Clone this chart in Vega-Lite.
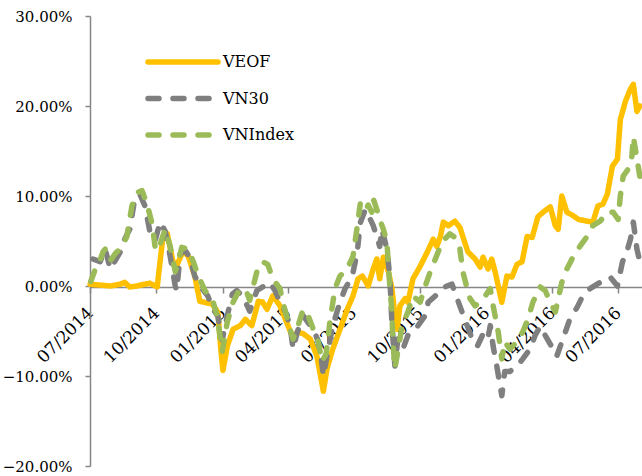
{
 "$schema": "https://vega.github.io/schema/vega-lite/v6.json",
 "width": 552, "height": 450,
 "autosize": {"type": "none"},
 "padding": {"left": 90, "top": 16, "right": 0, "bottom": 10},
 "config": {"view": {"stroke": null}, "font": "DejaVu Serif"},
 "data": {"values": [
{"date":"2014-07-01","series":"VEOF","value":0.2},
{"date":"2014-07-15","series":"VEOF","value":0.1},
{"date":"2014-07-29","series":"VEOF","value":0.0},
{"date":"2014-08-12","series":"VEOF","value":0.2},
{"date":"2014-08-18","series":"VEOF","value":0.4},
{"date":"2014-08-25","series":"VEOF","value":-0.1},
{"date":"2014-09-04","series":"VEOF","value":0.0},
{"date":"2014-09-15","series":"VEOF","value":0.2},
{"date":"2014-09-22","series":"VEOF","value":0.3},
{"date":"2014-10-02","series":"VEOF","value":-0.1},
{"date":"2014-10-10","series":"VEOF","value":5.5},
{"date":"2014-10-16","series":"VEOF","value":5.8},
{"date":"2014-10-23","series":"VEOF","value":3.0},
{"date":"2014-10-27","series":"VEOF","value":1.9},
{"date":"2014-11-07","series":"VEOF","value":3.9},
{"date":"2014-11-14","series":"VEOF","value":3.3},
{"date":"2014-11-23","series":"VEOF","value":1.1},
{"date":"2014-11-30","series":"VEOF","value":-1.7},
{"date":"2014-12-17","series":"VEOF","value":-2.0},
{"date":"2014-12-25","series":"VEOF","value":-2.9},
{"date":"2014-12-29","series":"VEOF","value":-7.0},
{"date":"2015-01-01","series":"VEOF","value":-9.4},
{"date":"2015-01-07","series":"VEOF","value":-6.7},
{"date":"2015-01-15","series":"VEOF","value":-4.8},
{"date":"2015-01-25","series":"VEOF","value":-4.4},
{"date":"2015-02-01","series":"VEOF","value":-3.7},
{"date":"2015-02-10","series":"VEOF","value":-4.4},
{"date":"2015-02-19","series":"VEOF","value":-1.7},
{"date":"2015-02-25","series":"VEOF","value":-1.8},
{"date":"2015-03-03","series":"VEOF","value":-2.6},
{"date":"2015-03-11","series":"VEOF","value":-1.1},
{"date":"2015-03-21","series":"VEOF","value":-2.2},
{"date":"2015-04-01","series":"VEOF","value":-4.4},
{"date":"2015-04-08","series":"VEOF","value":-5.8},
{"date":"2015-04-14","series":"VEOF","value":-5.1},
{"date":"2015-04-22","series":"VEOF","value":-5.3},
{"date":"2015-05-02","series":"VEOF","value":-5.9},
{"date":"2015-05-11","series":"VEOF","value":-7.8},
{"date":"2015-05-20","series":"VEOF","value":-11.7},
{"date":"2015-05-25","series":"VEOF","value":-9.2},
{"date":"2015-06-02","series":"VEOF","value":-7.0},
{"date":"2015-06-12","series":"VEOF","value":-4.8},
{"date":"2015-06-22","series":"VEOF","value":-2.6},
{"date":"2015-06-30","series":"VEOF","value":-1.1},
{"date":"2015-07-07","series":"VEOF","value":0.8},
{"date":"2015-07-13","series":"VEOF","value":1.1},
{"date":"2015-07-21","series":"VEOF","value":0.0},
{"date":"2015-07-28","series":"VEOF","value":1.9},
{"date":"2015-08-02","series":"VEOF","value":3.0},
{"date":"2015-08-06","series":"VEOF","value":0.8},
{"date":"2015-08-11","series":"VEOF","value":3.2},
{"date":"2015-08-18","series":"VEOF","value":1.6},
{"date":"2015-08-23","series":"VEOF","value":-0.3},
{"date":"2015-08-27","series":"VEOF","value":-3.3},
{"date":"2015-08-30","series":"VEOF","value":-4.8},
{"date":"2015-09-03","series":"VEOF","value":-2.2},
{"date":"2015-09-10","series":"VEOF","value":-1.4},
{"date":"2015-09-14","series":"VEOF","value":-1.8},
{"date":"2015-09-21","series":"VEOF","value":0.8},
{"date":"2015-10-01","series":"VEOF","value":2.2},
{"date":"2015-10-11","series":"VEOF","value":3.8},
{"date":"2015-10-19","series":"VEOF","value":5.2},
{"date":"2015-10-24","series":"VEOF","value":4.4},
{"date":"2015-10-29","series":"VEOF","value":5.5},
{"date":"2015-11-02","series":"VEOF","value":7.1},
{"date":"2015-11-09","series":"VEOF","value":6.7},
{"date":"2015-11-18","series":"VEOF","value":7.2},
{"date":"2015-11-25","series":"VEOF","value":6.5},
{"date":"2015-11-29","series":"VEOF","value":5.5},
{"date":"2015-12-06","series":"VEOF","value":3.8},
{"date":"2015-12-16","series":"VEOF","value":3.0},
{"date":"2015-12-23","series":"VEOF","value":2.1},
{"date":"2015-12-27","series":"VEOF","value":3.2},
{"date":"2016-01-03","series":"VEOF","value":1.9},
{"date":"2016-01-08","series":"VEOF","value":3.0},
{"date":"2016-01-13","series":"VEOF","value":1.5},
{"date":"2016-01-20","series":"VEOF","value":-1.1},
{"date":"2016-01-22","series":"VEOF","value":-1.8},
{"date":"2016-01-29","series":"VEOF","value":1.1},
{"date":"2016-02-05","series":"VEOF","value":1.0},
{"date":"2016-02-12","series":"VEOF","value":2.4},
{"date":"2016-02-19","series":"VEOF","value":2.7},
{"date":"2016-02-26","series":"VEOF","value":5.5},
{"date":"2016-03-04","series":"VEOF","value":5.4},
{"date":"2016-03-12","series":"VEOF","value":7.7},
{"date":"2016-03-19","series":"VEOF","value":8.2},
{"date":"2016-03-29","series":"VEOF","value":8.8},
{"date":"2016-04-05","series":"VEOF","value":6.7},
{"date":"2016-04-09","series":"VEOF","value":6.3},
{"date":"2016-04-14","series":"VEOF","value":10.0},
{"date":"2016-04-21","series":"VEOF","value":8.2},
{"date":"2016-04-30","series":"VEOF","value":7.8},
{"date":"2016-05-07","series":"VEOF","value":7.4},
{"date":"2016-05-19","series":"VEOF","value":7.2},
{"date":"2016-05-27","series":"VEOF","value":7.1},
{"date":"2016-06-03","series":"VEOF","value":8.9},
{"date":"2016-06-10","series":"VEOF","value":9.1},
{"date":"2016-06-16","series":"VEOF","value":10.2},
{"date":"2016-06-23","series":"VEOF","value":13.3},
{"date":"2016-06-30","series":"VEOF","value":14.1},
{"date":"2016-07-04","series":"VEOF","value":18.5},
{"date":"2016-07-11","series":"VEOF","value":20.5},
{"date":"2016-07-18","series":"VEOF","value":21.9},
{"date":"2016-07-22","series":"VEOF","value":22.4},
{"date":"2016-07-27","series":"VEOF","value":19.4},
{"date":"2016-07-31","series":"VEOF","value":20.0},
{"date":"2014-07-05","series":"VN30","value":3.0},
{"date":"2014-07-15","series":"VN30","value":2.7},
{"date":"2014-07-22","series":"VN30","value":4.1},
{"date":"2014-07-29","series":"VN30","value":1.9},
{"date":"2014-08-12","series":"VN30","value":3.8},
{"date":"2014-08-18","series":"VN30","value":5.2},
{"date":"2014-08-25","series":"VN30","value":6.3},
{"date":"2014-09-01","series":"VN30","value":9.7},
{"date":"2014-09-08","series":"VN30","value":10.2},
{"date":"2014-09-15","series":"VN30","value":8.9},
{"date":"2014-09-22","series":"VN30","value":6.0},
{"date":"2014-09-29","series":"VN30","value":5.0},
{"date":"2014-10-06","series":"VN30","value":7.1},
{"date":"2014-10-13","series":"VN30","value":6.1},
{"date":"2014-10-20","series":"VN30","value":3.3},
{"date":"2014-10-27","series":"VN30","value":0.0},
{"date":"2014-10-29","series":"VN30","value":-0.5},
{"date":"2014-11-03","series":"VN30","value":3.6},
{"date":"2014-11-10","series":"VN30","value":3.9},
{"date":"2014-11-16","series":"VN30","value":3.2},
{"date":"2014-11-23","series":"VN30","value":1.1},
{"date":"2014-12-03","series":"VN30","value":-0.3},
{"date":"2014-12-11","series":"VN30","value":-1.1},
{"date":"2014-12-18","series":"VN30","value":-2.5},
{"date":"2014-12-25","series":"VN30","value":-3.4},
{"date":"2014-12-31","series":"VN30","value":-6.0},
{"date":"2015-01-07","series":"VN30","value":-3.3},
{"date":"2015-01-14","series":"VN30","value":-0.9},
{"date":"2015-01-20","series":"VN30","value":-0.5},
{"date":"2015-01-29","series":"VN30","value":-1.2},
{"date":"2015-02-07","series":"VN30","value":-2.8},
{"date":"2015-02-17","series":"VN30","value":-0.5},
{"date":"2015-02-25","series":"VN30","value":-0.1},
{"date":"2015-03-07","series":"VN30","value":0.4},
{"date":"2015-03-14","series":"VN30","value":-0.5},
{"date":"2015-03-21","series":"VN30","value":-1.8},
{"date":"2015-03-28","series":"VN30","value":-2.8},
{"date":"2015-04-04","series":"VN30","value":-4.4},
{"date":"2015-04-08","series":"VN30","value":-7.0},
{"date":"2015-04-14","series":"VN30","value":-5.1},
{"date":"2015-04-22","series":"VN30","value":-3.3},
{"date":"2015-05-02","series":"VN30","value":-4.4},
{"date":"2015-05-08","series":"VN30","value":-5.1},
{"date":"2015-05-15","series":"VN30","value":-6.7},
{"date":"2015-05-20","series":"VN30","value":-10.0},
{"date":"2015-05-25","series":"VN30","value":-7.8},
{"date":"2015-06-02","series":"VN30","value":-4.4},
{"date":"2015-06-12","series":"VN30","value":-1.8},
{"date":"2015-06-19","series":"VN30","value":-0.3},
{"date":"2015-06-29","series":"VN30","value":1.1},
{"date":"2015-07-06","series":"VN30","value":3.8},
{"date":"2015-07-10","series":"VN30","value":7.0},
{"date":"2015-07-17","series":"VN30","value":8.5},
{"date":"2015-07-24","series":"VN30","value":7.4},
{"date":"2015-07-28","series":"VN30","value":6.7},
{"date":"2015-08-02","series":"VN30","value":5.5},
{"date":"2015-08-06","series":"VN30","value":4.4},
{"date":"2015-08-09","series":"VN30","value":6.3},
{"date":"2015-08-16","series":"VN30","value":4.1},
{"date":"2015-08-20","series":"VN30","value":1.0},
{"date":"2015-08-23","series":"VN30","value":-4.4},
{"date":"2015-08-27","series":"VN30","value":-8.9},
{"date":"2015-08-31","series":"VN30","value":-5.9},
{"date":"2015-09-07","series":"VN30","value":-7.0},
{"date":"2015-09-14","series":"VN30","value":-5.5},
{"date":"2015-09-21","series":"VN30","value":-5.1},
{"date":"2015-09-28","series":"VN30","value":-4.4},
{"date":"2015-10-08","series":"VN30","value":-3.3},
{"date":"2015-10-12","series":"VN30","value":-1.8},
{"date":"2015-10-22","series":"VN30","value":-1.1},
{"date":"2015-10-31","series":"VN30","value":-0.3},
{"date":"2015-11-07","series":"VN30","value":0.0},
{"date":"2015-11-14","series":"VN30","value":0.2},
{"date":"2015-11-18","series":"VN30","value":-0.7},
{"date":"2015-11-28","series":"VN30","value":-2.9},
{"date":"2015-12-05","series":"VN30","value":-4.4},
{"date":"2015-12-12","series":"VN30","value":-5.9},
{"date":"2015-12-19","series":"VN30","value":-6.7},
{"date":"2015-12-26","series":"VN30","value":-5.5},
{"date":"2016-01-02","series":"VN30","value":-6.1},
{"date":"2016-01-06","series":"VN30","value":-4.4},
{"date":"2016-01-10","series":"VN30","value":-6.7},
{"date":"2016-01-15","series":"VN30","value":-8.9},
{"date":"2016-01-22","series":"VN30","value":-12.2},
{"date":"2016-01-26","series":"VN30","value":-9.5},
{"date":"2016-02-02","series":"VN30","value":-9.5},
{"date":"2016-02-12","series":"VN30","value":-8.9},
{"date":"2016-02-20","series":"VN30","value":-8.1},
{"date":"2016-03-01","series":"VN30","value":-7.0},
{"date":"2016-03-08","series":"VN30","value":-5.5},
{"date":"2016-03-15","series":"VN30","value":-4.5},
{"date":"2016-03-25","series":"VN30","value":-5.9},
{"date":"2016-04-02","series":"VN30","value":-7.0},
{"date":"2016-04-07","series":"VN30","value":-7.8},
{"date":"2016-04-19","series":"VN30","value":-5.1},
{"date":"2016-04-25","series":"VN30","value":-3.7},
{"date":"2016-05-05","series":"VN30","value":-2.4},
{"date":"2016-05-13","series":"VN30","value":-1.1},
{"date":"2016-05-23","series":"VN30","value":-0.3},
{"date":"2016-06-06","series":"VN30","value":0.4},
{"date":"2016-06-20","series":"VN30","value":1.0},
{"date":"2016-06-30","series":"VN30","value":0.0},
{"date":"2016-07-07","series":"VN30","value":2.7},
{"date":"2016-07-13","series":"VN30","value":3.8},
{"date":"2016-07-18","series":"VN30","value":5.2},
{"date":"2016-07-22","series":"VN30","value":7.1},
{"date":"2016-07-27","series":"VN30","value":4.1},
{"date":"2016-07-31","series":"VN30","value":2.7},
{"date":"2014-07-02","series":"VNIndex","value":0.5},
{"date":"2014-07-08","series":"VNIndex","value":1.8},
{"date":"2014-07-12","series":"VNIndex","value":2.2},
{"date":"2014-07-19","series":"VNIndex","value":3.8},
{"date":"2014-07-22","series":"VNIndex","value":4.1},
{"date":"2014-07-29","series":"VNIndex","value":2.8},
{"date":"2014-08-05","series":"VNIndex","value":3.6},
{"date":"2014-08-14","series":"VNIndex","value":4.3},
{"date":"2014-08-21","series":"VNIndex","value":5.5},
{"date":"2014-08-28","series":"VNIndex","value":8.9},
{"date":"2014-09-05","series":"VNIndex","value":10.4},
{"date":"2014-09-11","series":"VNIndex","value":10.6},
{"date":"2014-09-18","series":"VNIndex","value":9.1},
{"date":"2014-09-25","series":"VNIndex","value":6.9},
{"date":"2014-09-29","series":"VNIndex","value":4.4},
{"date":"2014-10-03","series":"VNIndex","value":3.9},
{"date":"2014-10-13","series":"VNIndex","value":6.3},
{"date":"2014-10-20","series":"VNIndex","value":4.4},
{"date":"2014-10-27","series":"VNIndex","value":1.6},
{"date":"2014-10-31","series":"VNIndex","value":2.7},
{"date":"2014-11-05","series":"VNIndex","value":4.3},
{"date":"2014-11-14","series":"VNIndex","value":4.1},
{"date":"2014-11-21","series":"VNIndex","value":2.7},
{"date":"2014-11-28","series":"VNIndex","value":1.1},
{"date":"2014-12-07","series":"VNIndex","value":-0.5},
{"date":"2014-12-17","series":"VNIndex","value":-1.4},
{"date":"2014-12-24","series":"VNIndex","value":-3.3},
{"date":"2014-12-31","series":"VNIndex","value":-7.3},
{"date":"2015-01-07","series":"VNIndex","value":-4.0},
{"date":"2015-01-15","series":"VNIndex","value":-1.8},
{"date":"2015-01-22","series":"VNIndex","value":-0.7},
{"date":"2015-02-01","series":"VNIndex","value":-0.3},
{"date":"2015-02-07","series":"VNIndex","value":-1.6},
{"date":"2015-02-17","series":"VNIndex","value":1.6},
{"date":"2015-02-25","series":"VNIndex","value":2.7},
{"date":"2015-03-04","series":"VNIndex","value":2.4},
{"date":"2015-03-11","series":"VNIndex","value":0.8},
{"date":"2015-03-21","series":"VNIndex","value":-0.3},
{"date":"2015-03-25","series":"VNIndex","value":-1.8},
{"date":"2015-04-04","series":"VNIndex","value":-4.8},
{"date":"2015-04-08","series":"VNIndex","value":-5.9},
{"date":"2015-04-15","series":"VNIndex","value":-4.4},
{"date":"2015-04-22","series":"VNIndex","value":-2.6},
{"date":"2015-04-29","series":"VNIndex","value":-3.3},
{"date":"2015-05-06","series":"VNIndex","value":-4.8},
{"date":"2015-05-13","series":"VNIndex","value":-6.2},
{"date":"2015-05-18","series":"VNIndex","value":-8.4},
{"date":"2015-05-24","series":"VNIndex","value":-7.5},
{"date":"2015-05-29","series":"VNIndex","value":-4.0},
{"date":"2015-06-05","series":"VNIndex","value":-0.3},
{"date":"2015-06-12","series":"VNIndex","value":1.1},
{"date":"2015-06-22","series":"VNIndex","value":1.9},
{"date":"2015-06-30","series":"VNIndex","value":3.3},
{"date":"2015-07-06","series":"VNIndex","value":6.7},
{"date":"2015-07-10","series":"VNIndex","value":9.1},
{"date":"2015-07-17","series":"VNIndex","value":8.3},
{"date":"2015-07-21","series":"VNIndex","value":9.0},
{"date":"2015-07-26","series":"VNIndex","value":8.2},
{"date":"2015-07-28","series":"VNIndex","value":9.7},
{"date":"2015-08-02","series":"VNIndex","value":8.5},
{"date":"2015-08-06","series":"VNIndex","value":7.4},
{"date":"2015-08-11","series":"VNIndex","value":6.3},
{"date":"2015-08-16","series":"VNIndex","value":4.9},
{"date":"2015-08-18","series":"VNIndex","value":2.2},
{"date":"2015-08-20","series":"VNIndex","value":0.0},
{"date":"2015-08-23","series":"VNIndex","value":-2.9},
{"date":"2015-08-24","series":"VNIndex","value":-5.9},
{"date":"2015-08-27","series":"VNIndex","value":-9.2},
{"date":"2015-09-06","series":"VNIndex","value":-4.4},
{"date":"2015-09-14","series":"VNIndex","value":-2.9},
{"date":"2015-09-21","series":"VNIndex","value":-1.1},
{"date":"2015-10-01","series":"VNIndex","value":-1.8},
{"date":"2015-10-08","series":"VNIndex","value":0.0},
{"date":"2015-10-15","series":"VNIndex","value":1.6},
{"date":"2015-10-22","series":"VNIndex","value":3.0},
{"date":"2015-10-29","series":"VNIndex","value":4.4},
{"date":"2015-11-04","series":"VNIndex","value":5.2},
{"date":"2015-11-11","series":"VNIndex","value":5.8},
{"date":"2015-11-18","series":"VNIndex","value":5.4},
{"date":"2015-11-25","series":"VNIndex","value":4.1},
{"date":"2015-11-29","series":"VNIndex","value":1.6},
{"date":"2015-12-05","series":"VNIndex","value":-0.3},
{"date":"2015-12-09","series":"VNIndex","value":-1.4},
{"date":"2015-12-16","series":"VNIndex","value":-2.2},
{"date":"2015-12-23","series":"VNIndex","value":-1.8},
{"date":"2015-12-30","series":"VNIndex","value":-1.1},
{"date":"2016-01-06","series":"VNIndex","value":-0.3},
{"date":"2016-01-10","series":"VNIndex","value":-2.2},
{"date":"2016-01-17","series":"VNIndex","value":-5.1},
{"date":"2016-01-22","series":"VNIndex","value":-8.1},
{"date":"2016-01-26","series":"VNIndex","value":-6.2},
{"date":"2016-02-02","series":"VNIndex","value":-7.0},
{"date":"2016-02-12","series":"VNIndex","value":-6.2},
{"date":"2016-02-20","series":"VNIndex","value":-5.1},
{"date":"2016-02-27","series":"VNIndex","value":-3.7},
{"date":"2016-03-05","series":"VNIndex","value":-1.8},
{"date":"2016-03-15","series":"VNIndex","value":-0.1},
{"date":"2016-03-22","series":"VNIndex","value":-0.5},
{"date":"2016-03-29","series":"VNIndex","value":-1.8},
{"date":"2016-04-05","series":"VNIndex","value":-2.9},
{"date":"2016-04-14","series":"VNIndex","value":0.4},
{"date":"2016-04-21","series":"VNIndex","value":1.9},
{"date":"2016-04-30","series":"VNIndex","value":3.3},
{"date":"2016-05-09","series":"VNIndex","value":4.4},
{"date":"2016-05-19","series":"VNIndex","value":5.5},
{"date":"2016-05-27","series":"VNIndex","value":6.7},
{"date":"2016-06-06","series":"VNIndex","value":7.2},
{"date":"2016-06-16","series":"VNIndex","value":8.2},
{"date":"2016-06-24","series":"VNIndex","value":8.2},
{"date":"2016-07-01","series":"VNIndex","value":7.4},
{"date":"2016-07-04","series":"VNIndex","value":10.0},
{"date":"2016-07-08","series":"VNIndex","value":12.2},
{"date":"2016-07-15","series":"VNIndex","value":13.0},
{"date":"2016-07-20","series":"VNIndex","value":14.4},
{"date":"2016-07-22","series":"VNIndex","value":16.6},
{"date":"2016-07-27","series":"VNIndex","value":14.1},
{"date":"2016-07-31","series":"VNIndex","value":12.2}
 ]},
 "mark": {"type": "line", "strokeWidth": 5.5, "strokeCap": "round", "strokeJoin": "round"},
 "encoding": {
  "x": {"field": "date", "type": "temporal",
   "scale": {"domain": [{"year": 2014, "month": 7, "date": 1}, {"year": 2016, "month": 8, "date": 3}]},
   "axis": {"title": null, "format": "%m/%Y", "tickCount": {"interval": "month", "step": 3},
    "offset": -179, "labelAngle": -45, "labelAlign": "right", "labelBaseline": "middle",
    "labelFont": "DejaVu Serif", "labelFontSize": 17, "labelColor": "black", "labelPadding": 17,
    "labelOverlap": false, "labelFlush": false, "grid": false,
    "domainColor": "#868686", "domainWidth": 1.5, "tickColor": "#868686", "tickWidth": 1.5, "tickSize": 6}},
  "y": {"field": "value", "type": "quantitative",
   "scale": {"domain": [-20, 30], "nice": false},
   "axis": {"title": null, "values": [-20, -10, 0, 10, 20, 30], "labelExpr": "format(datum.value/100, '.2%')",
    "labelFont": "DejaVu Serif", "labelFontSize": 15, "labelColor": "black", "labelPadding": 13,
    "grid": false, "domainColor": "#868686", "domainWidth": 1.5, "tickColor": "#868686", "tickWidth": 1.5, "tickSize": 5}},
  "color": {"field": "series", "type": "nominal",
   "scale": {"domain": ["VEOF", "VN30", "VNIndex"], "range": ["#FFC000", "#7F7F7F", "#9BBB59"]},
   "legend": {"orient": "none", "legendX": 85, "legendY": 38, "title": null, "symbolType": "M-7,0H7", "symbolSize": 100, "symbolStrokeWidth": 5.5, "labelFont": "DejaVu Serif", "labelFontSize": 16, "labelColor": "black", "rowPadding": 14.5, "labelOffset": 32, "padding": 0,
    "encode": {"symbols": {"update": {"strokeCap": {"value": "round"}}}}}},
  "strokeDash": {"field": "series", "type": "nominal",
   "scale": {"domain": ["VEOF", "VN30", "VNIndex"], "range": [[1, 0], [11, 14], [11, 14]]},
   "legend": {"orient": "none", "legendX": 85, "legendY": 38, "title": null, "symbolType": "M-7,0H7", "symbolSize": 100, "symbolStrokeWidth": 5.5, "labelFont": "DejaVu Serif", "labelFontSize": 16, "labelColor": "black", "rowPadding": 14.5, "labelOffset": 32, "padding": 0,
    "encode": {"symbols": {"update": {"strokeCap": {"value": "round"}}}}}}
 }
}
